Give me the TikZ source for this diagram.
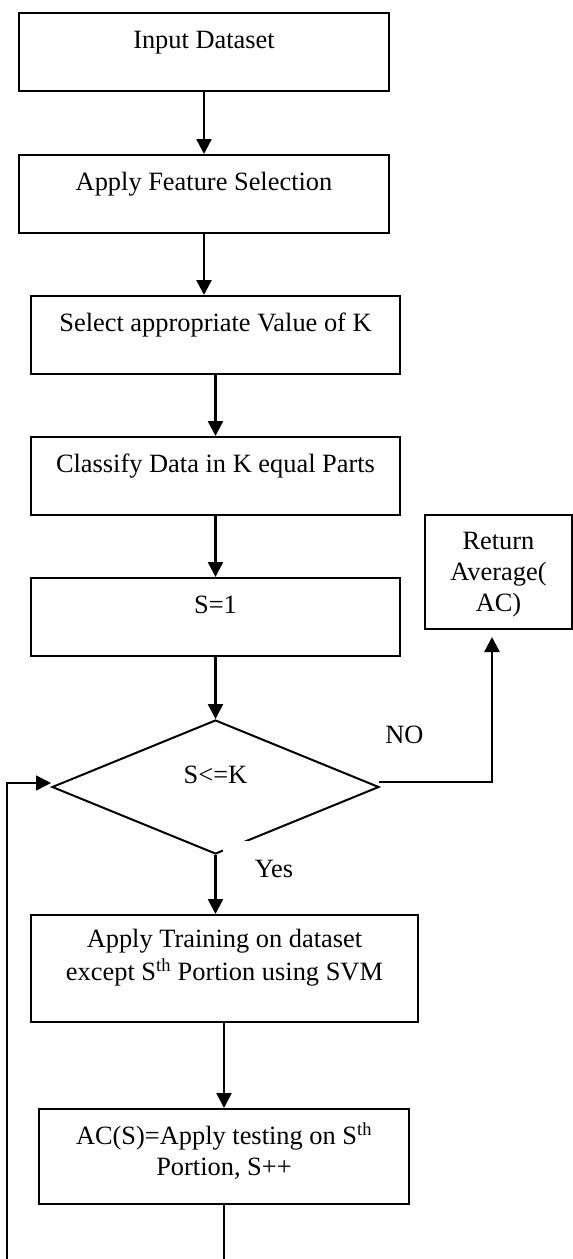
\documentclass[tikz,border=0pt]{standalone}
\usepackage{fontspec}
\setmainfont{Liberation Serif}
\usetikzlibrary{arrows.meta,shapes.geometric,calc}
\tikzset{
  procbox/.style={draw, line width=1.8pt, inner sep=0pt, align=center,
    text height=36pt, text depth=42pt},
  decision/.style={diamond, draw, line width=2pt, inner sep=0pt,
    minimum width=327pt, minimum height=134pt, text height=17pt, text depth=25pt},
  flow/.style={-{Triangle[width=15pt,length=15pt]}, line width=2.5pt},
}
\begin{document}
\begin{tikzpicture}[x=1pt, y=-1pt, font=\fontsize{26.4}{31}\selectfont]
    \useasboundingbox (0,0) rectangle (573,1259);

    % Process boxes
    \node[procbox, minimum width=370pt, anchor=north] (input) at (204,12) {Input Dataset};
    \node[procbox, minimum width=370pt, anchor=north] (feature) at (204,154) {Apply Feature Selection};
    \node[procbox, minimum width=369pt, anchor=north] (valk) at (215.5,295) {Select appropriate Value of K};
    \node[procbox, minimum width=369pt, anchor=north] (parts) at (215.5,436) {Classify Data in K equal Parts};
    \node[procbox, minimum width=369pt, anchor=north] (init) at (215.5,577) {S=1};
    \node[procbox, minimum width=147pt, anchor=north, text height=97pt, text depth=17pt] (ret) at (498.5,514) {Return\\Average(\\AC)};

    % Decision
    \node[decision] (cond) at (215.5,787) {S<=K};

    \node[procbox, minimum width=387pt, anchor=north, text height=66pt, text depth=41pt] (train) at (224.5,914) {Apply Training on dataset\\[2pt]except S\textsuperscript{th} Portion using SVM};
    \node[procbox, minimum width=370pt, anchor=north, text height=67pt, text depth=28pt] (test) at (224,1108) {AC(S)=Apply testing on S\textsuperscript{th}\\Portion, S++};

    % Branch labels
    \node[anchor=base] (no) at (404.5,743) {NO};
    \node[fill=white, inner sep=0pt, text width=70pt, align=right, text height=36pt, text depth=4pt, anchor=base east] (yes) at (293.4,877) {Yes};

    % Free ends
    \coordinate (noin) at (492,637);
    \coordinate (loopbot) at (7,1300);
    \coordinate (loopin) at (51,783);

    % Arrows
    \draw[flow] (input) -- (feature);
    \draw[flow] (feature.south) -- (feature.south |- valk.north);
    \draw[flow] (valk) -- (parts);
    \draw[flow] (parts) -- (init);
    \draw[flow] (init) -- (cond);
    \draw[flow] (cond) -- (cond |- train.north);
    \draw[flow] (test.north |- train.south) -- (test);
    \draw[flow] ($(cond.east)+(-1,-5)$) -| (noin);
    \draw[flow, line width=1.5pt] (test.south) |- (loopbot) |- (loopin);
\end{tikzpicture}
\end{document}
